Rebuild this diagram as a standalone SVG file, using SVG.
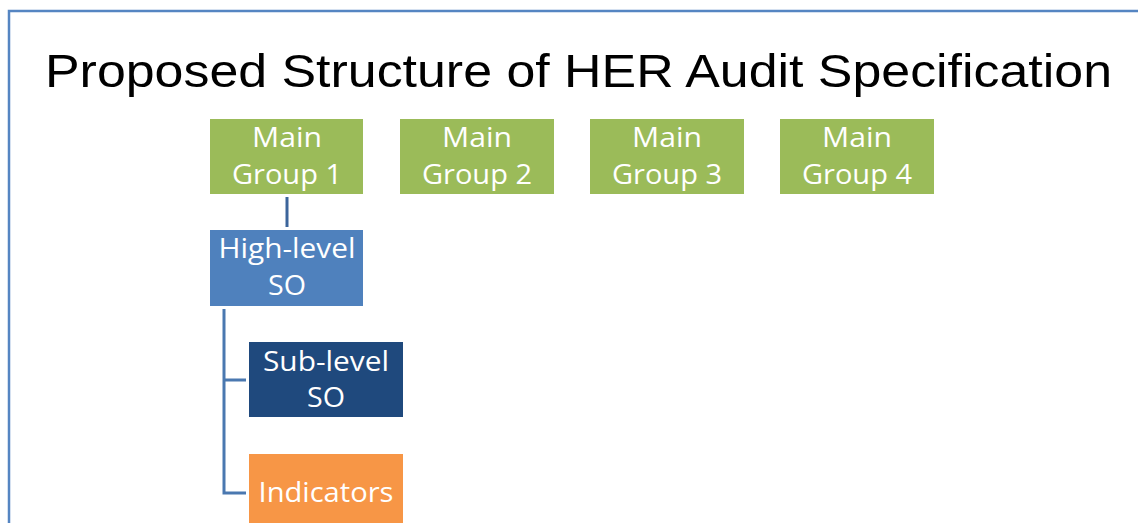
<svg xmlns="http://www.w3.org/2000/svg" width="1138" height="523" viewBox="0 0 1138 523">
<style>
.frame{fill:none;stroke:#5585C2;stroke-width:2.5}
.title{font-family:"Liberation Sans",Arial,sans-serif;font-size:46px;fill:#000}
.lbl{font-family:"Open Sans","Noto Sans",sans-serif;font-size:28px;fill:#fff;text-anchor:middle}
.green{fill:#9BBB59}
.blue{fill:#4F81BD}
.navy{fill:#1F497D}
.orange{fill:#F79646}
.c1{stroke:#3C659B;stroke-width:3;fill:none}
.c2{stroke:#4A78B0;stroke-width:3;fill:none}
</style>
<rect width="1138" height="523" fill="#fff"/>
<rect class="frame" x="9" y="11" width="1160" height="540"/>
<text class="title" x="45" y="87" textLength="1067" lengthAdjust="spacingAndGlyphs">Proposed Structure of HER Audit Specification</text>
<g id="connectors">
<line class="c1" x1="287" y1="197" x2="287" y2="227"/>
<path class="c2" d="M224 309 V493 H246 M224 380 H246"/>
</g>
<g id="main-group-1">
<rect class="green" x="210" y="119" width="153" height="75"/>
<text class="lbl" x="287" y="147" textLength="70" lengthAdjust="spacingAndGlyphs">Main</text>
<text class="lbl" x="287" y="184" textLength="110" lengthAdjust="spacingAndGlyphs">Group 1</text>
</g>
<g id="main-group-2">
<rect class="green" x="400" y="119" width="154" height="75"/>
<text class="lbl" x="477" y="147" textLength="70" lengthAdjust="spacingAndGlyphs">Main</text>
<text class="lbl" x="477" y="184" textLength="110" lengthAdjust="spacingAndGlyphs">Group 2</text>
</g>
<g id="main-group-3">
<rect class="green" x="590" y="119" width="154" height="75"/>
<text class="lbl" x="667" y="147" textLength="70" lengthAdjust="spacingAndGlyphs">Main</text>
<text class="lbl" x="667" y="184" textLength="110" lengthAdjust="spacingAndGlyphs">Group 3</text>
</g>
<g id="main-group-4">
<rect class="green" x="780" y="119" width="154" height="75"/>
<text class="lbl" x="857" y="147" textLength="70" lengthAdjust="spacingAndGlyphs">Main</text>
<text class="lbl" x="857" y="184" textLength="110" lengthAdjust="spacingAndGlyphs">Group 4</text>
</g>
<g id="high-level-so">
<rect class="blue" x="210" y="230" width="153" height="76"/>
<text class="lbl" x="287" y="258" textLength="137" lengthAdjust="spacingAndGlyphs">High-level</text>
<text class="lbl" x="287" y="295" textLength="38" lengthAdjust="spacingAndGlyphs">SO</text>
</g>
<g id="sub-level-so">
<rect class="navy" x="249" y="342" width="154" height="75"/>
<text class="lbl" x="326" y="371" textLength="126" lengthAdjust="spacingAndGlyphs">Sub-level</text>
<text class="lbl" x="326" y="407" textLength="38" lengthAdjust="spacingAndGlyphs">SO</text>
</g>
<g id="indicators">
<rect class="orange" x="249" y="454" width="154" height="75"/>
<text class="lbl" x="326" y="502" textLength="135" lengthAdjust="spacingAndGlyphs">Indicators</text>
</g>
</svg>
